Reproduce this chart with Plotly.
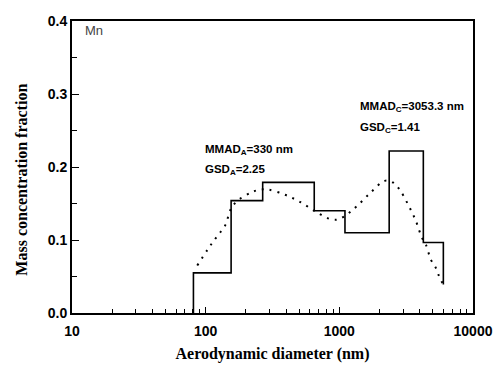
import plotly.graph_objects as go
import numpy as np

# Step histogram (stage boundaries in nm and mass fraction per stage)
stage_edges = [81, 155, 267, 649, 1102, 2360, 4250, 6000]
stage_values = [0.055, 0.154, 0.179, 0.140, 0.110, 0.222, 0.0966]
end_value = 0.039

# Fitted bimodal curve (dotted)
fit_d = [86.5, 104, 115, 128, 141, 153, 171, 224, 259, 294, 392, 511, 676, 885, 1009,
         1309, 1694, 2183, 2506, 2805, 3281, 3741, 4130, 4446, 4842, 5284, 5585, 5985]
fit_v = [0.065, 0.0875, 0.099, 0.110, 0.121, 0.141, 0.153, 0.166, 0.169, 0.169, 0.162, 0.152,
         0.138, 0.128, 0.129, 0.144, 0.164, 0.181, 0.179, 0.170, 0.148, 0.126, 0.104,
         0.0934, 0.073, 0.0615, 0.050, 0.039]

x_ticks = [10, 100, 1000, 10000]
y_ticks = [0.0, 0.1, 0.2, 0.3, 0.4]

step_x = [stage_edges[0]] + stage_edges
step_y = [0.0] + stage_values + [end_value]

fig = go.Figure()
fig.add_trace(go.Scatter(x=step_x, y=step_y, mode="lines", line_shape="hv",
                         line=dict(color="black", width=1.6), showlegend=False))
fig.add_trace(go.Scatter(x=fit_d, y=fit_v, mode="lines", line_shape="spline",
                         line=dict(color="black", width=2, dash="2px,6px"), showlegend=False))

tickfont = dict(family="Liberation Sans, Arial, sans-serif", size=14, color="black", weight="bold")
titlefont = dict(family="Liberation Serif, Times New Roman, serif", size=16, color="black", weight="bold")

fig.update_xaxes(type="log", range=[1, 4], tickvals=x_ticks, ticktext=[str(v) for v in x_ticks],
                 ticks="inside", ticklen=6, tickwidth=1.2, tickcolor="black",
                 minor=dict(ticks="inside", ticklen=4, tickwidth=1, tickcolor="black",
                            tickvals=[m * 10 ** e for e in range(1, 4) for m in range(2, 10)]),
                 showline=True, linecolor="black", linewidth=2, mirror=True,
                 showgrid=False, zeroline=False, tickfont=tickfont, automargin=False,
                 ticklabelstandoff=4,
                 title=dict(text="Aerodynamic diameter (nm)", font=titlefont, standoff=10))
fig.update_yaxes(range=[0, 0.4], tickvals=y_ticks, ticktext=[f"{v:.1f}" for v in y_ticks],
                 ticks="inside", ticklen=7, tickwidth=1.2, tickcolor="black",
                 minor=dict(ticks="inside", ticklen=5, tickwidth=1, tickcolor="black", dtick=0.05),
                 showline=True, linecolor="black", linewidth=2, mirror=True,
                 showgrid=False, zeroline=False, tickfont=tickfont, automargin=False)

# y-axis title, placed a little below the axis middle as in the reference
fig.add_annotation(xref="paper", yref="paper", x=-0.1254, y=0.4556,
                   text="Mass concentration fraction", textangle=-90, showarrow=False,
                   xanchor="center", yanchor="middle", font=titlefont)

annfont = dict(family="Liberation Sans, Arial, sans-serif", size=11.5, color="black", weight="bold")
annotations = [
    dict(x=np.log10(95.5), y=0.2234, text="MMAD<sub>A</sub>=330 nm"),
    dict(x=np.log10(95.5), y=0.196, text="GSD<sub>A</sub>=2.25"),
    dict(x=np.log10(1377), y=0.2826, text="MMAD<sub>C</sub>=3053.3 nm"),
    dict(x=np.log10(1377), y=0.2535, text="GSD<sub>C</sub>=1.41"),
]
for a in annotations:
    fig.add_annotation(x=a["x"], y=a["y"], text=a["text"], showarrow=False,
                       xanchor="left", yanchor="middle", font=annfont)
fig.add_annotation(x=np.log10(12.1), y=0.387, text="Mn", showarrow=False,
                   xanchor="left", yanchor="middle",
                   font=dict(family="Liberation Sans, Arial, sans-serif", size=13, color="#444"))

fig.update_layout(width=493, height=365, margin=dict(l=72, r=20, t=21, b=52),
                  paper_bgcolor="white", plot_bgcolor="white")
# remove the default page margin so the figure fills the window exactly
fig.write_html("out.html", config={"displayModeBar": False},
               post_script="document.body.style.margin='0';")
